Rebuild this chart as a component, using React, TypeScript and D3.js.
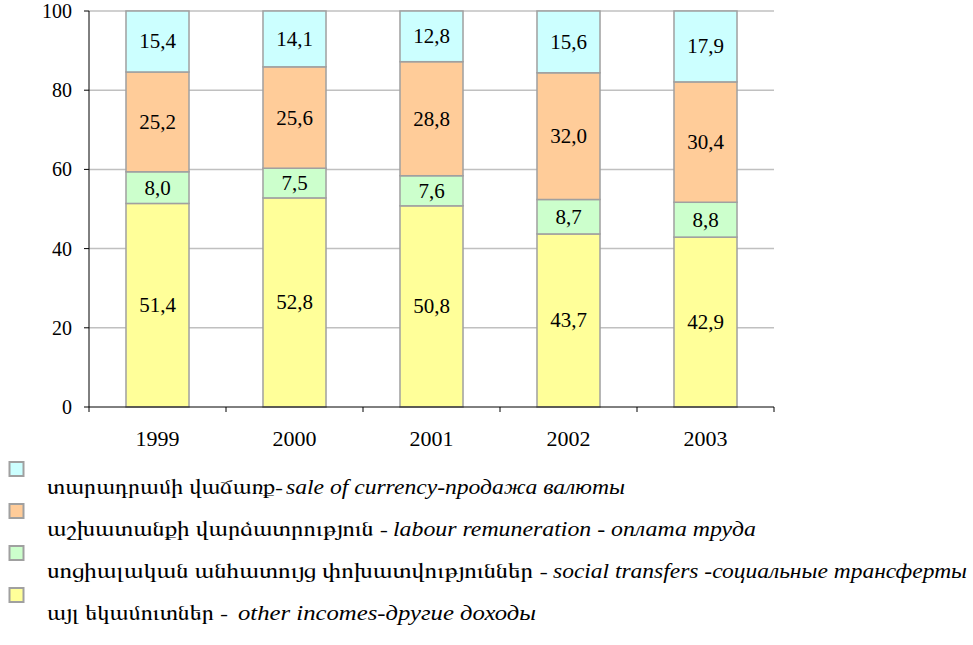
import React from "react";
import * as d3 from "d3";

const years = ["1999", "2000", "2001", "2002", "2003"];
const other = [51.4, 52.8, 50.8, 43.7, 42.9];
const social = [8.0, 7.5, 7.6, 8.7, 8.8];
const labour = [25.2, 25.6, 28.8, 32.0, 30.4];
const currency = [15.4, 14.1, 12.8, 15.6, 17.9];
const yTicks = [0, 20, 40, 60, 80, 100];

const seriesOrder = [
  { key: "other", values: other, color: "#FFFF99" },
  { key: "social", values: social, color: "#CCFFCC" },
  { key: "labour", values: labour, color: "#FFCC99" },
  { key: "currency", values: currency, color: "#CCFFFF" },
];

const legendColors = ["#CCFFFF", "#FFCC99", "#CCFFCC", "#FFFF99"];
const legendArmenian = [
  "տարադրամի վաճառք-",
  "աշխատանքի վարձատրություն -",
  "սոցիալական անհատույց փոխատվություններ -",
  "այլ եկամուտներ -",
];
const legendItalic = [
  "sale of currency-продажа валюты",
  "labour remuneration - оплата труда",
  "social transfers -социальные трансферты",
  "other incomes-другие доходы",
];

const armLayout = [[47, 236], [47, 341], [47, 501], [47, 181]];
const italLayout = [[286, 339], [393, 363], [553, 414], [238, 298]];

const SERIF = { fontFamily: "Liberation Serif" };
const ARM = { fontFamily: "FreeSerif" };

export default function App() {
  const W = 973, H = 645;
  const x0 = 89, x1 = 774, yTop = 11, yBot = 407;
  const x = d3.scaleBand<string>().domain(years).range([x0, x1]).paddingInner(0.54).paddingOuter(0.27);
  const y = d3.scaleLinear().domain([0, 100]).range([yBot, yTop]);
  const fmt = (v: number) => v.toFixed(1).replace(".", ",");

  const stacks = years.map((yr, i) => {
    let acc = 0;
    return seriesOrder.map((s) => {
      const start = acc;
      acc += s.values[i];
      return { yr, start, end: acc, v: s.values[i], color: s.color, key: s.key };
    });
  });

  const catTicks = d3.range(years.length + 1).map((i) => x0 + ((x1 - x0) / years.length) * i);

  return (
    <svg width={W} height={H} style={{ position: "absolute", left: 0, top: 0, background: "#fff" }}>
      {yTicks.filter((t) => t > 0).map((t) => (
        <line key={t} x1={x0} x2={x1} y1={y(t)} y2={y(t)} stroke="#C0C0C0" strokeWidth={1.5} />
      ))}
      {stacks.map((st) =>
        st.map((seg) => (
          <g key={seg.yr + seg.key}>
            <rect x={x(seg.yr)} y={y(seg.end)} width={x.bandwidth()} height={y(seg.start) - y(seg.end)}
              fill={seg.color} stroke="#A0A0A0" strokeWidth={1.5} />
            <text x={(x(seg.yr) as number) + x.bandwidth() / 2} y={(y(seg.start) + y(seg.end)) / 2 + 7}
              textAnchor="middle" style={SERIF} fontSize={21} fill="#000">
              {fmt(seg.v)}
            </text>
          </g>
        ))
      )}
      <line x1={x0} x2={x0} y1={yTop} y2={yBot} stroke="#000" strokeWidth={1} />
      <line x1={x0} x2={x1} y1={yBot} y2={yBot} stroke="#000" strokeWidth={1} />
      {yTicks.map((t) => (
        <g key={t}>
          <line x1={x0 - 5} x2={x0} y1={y(t)} y2={y(t)} stroke="#000" />
          <text x={x0 - 17} y={y(t) + 7} textAnchor="end" style={SERIF} fontSize={20}>{t}</text>
        </g>
      ))}
      {catTicks.map((cx, i) => (
        <line key={i} x1={cx} x2={cx} y1={yBot} y2={yBot + 5} stroke="#000" />
      ))}
      {years.map((yr) => (
        <text key={yr} x={(x(yr) as number) + x.bandwidth() / 2} y={446} textAnchor="middle"
          style={SERIF} fontSize={22}>{yr}</text>
      ))}
      {legendColors.map((c, i) => {
        const ly = 494 + i * 42;
        return (
          <g key={i}>
            <rect x={9.5} y={ly - 32} width={14} height={14} fill={c} stroke="#A0A0A0" strokeWidth={2} />
            <text x={armLayout[i][0]} y={ly} fontSize={22} style={ARM}
              textLength={armLayout[i][1]} lengthAdjust="spacingAndGlyphs">{legendArmenian[i]}</text>
            <text x={italLayout[i][0]} y={ly} fontSize={22} style={SERIF} fontStyle="italic"
              textLength={italLayout[i][1]} lengthAdjust="spacingAndGlyphs">{legendItalic[i]}</text>
          </g>
        );
      })}
    </svg>
  );
}
